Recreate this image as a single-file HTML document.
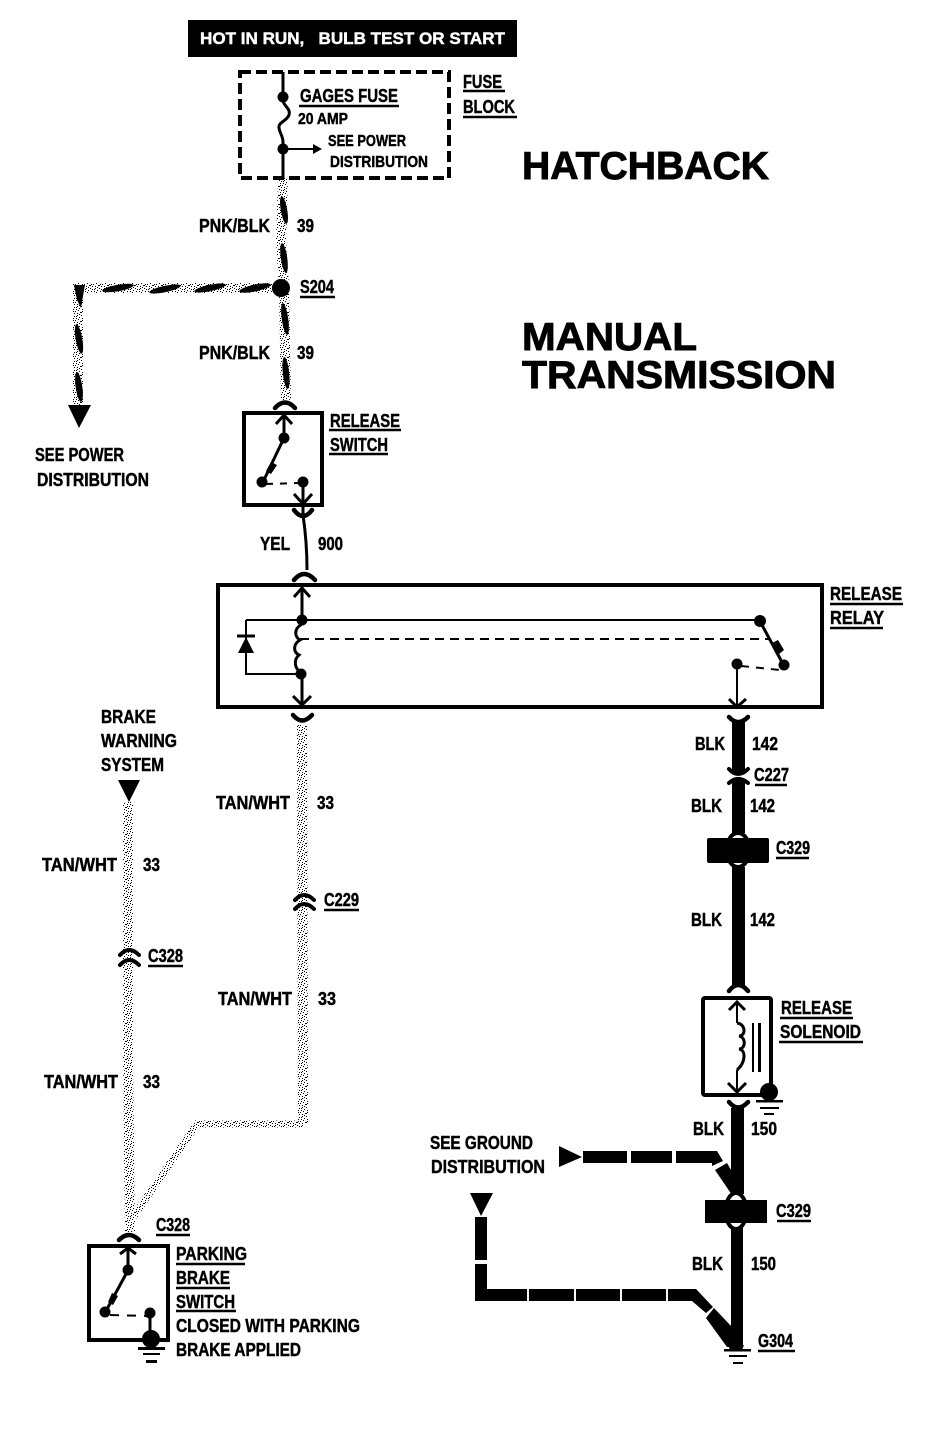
<!DOCTYPE html>
<html><head><meta charset="utf-8"><title>Hatchback Manual Transmission Wiring</title>
<style>
html,body{margin:0;padding:0;background:#fff}
svg{display:block}
text{font-family:"Liberation Sans",sans-serif;font-weight:bold;fill:#000;font-size:18px;stroke:#000;stroke-width:.45}
.h{font-size:39px;stroke-width:.9}
.m{font-size:16px}
.u{stroke:#000;stroke-width:2.5;fill:none}
.w{fill:none;stroke:#000;stroke-width:2}
.t{fill:none;stroke:#000;stroke-width:3}
.a{fill:none;stroke:#000;stroke-width:4.5;stroke-linecap:round}
.s{fill:none;stroke:url(#st);stroke-width:10}
.k{fill:none;stroke:#000;stroke-width:12}
</style></head><body>
<svg width="928" height="1432" viewBox="0 0 928 1432" xmlns="http://www.w3.org/2000/svg">
<defs>
<pattern id="st" width="9" height="9" patternUnits="userSpaceOnUse">
<rect x="0" y="0" width="1" height="1"/><rect x="2" y="1" width="1" height="1"/><rect x="5" y="0" width="1" height="1"/><rect x="7" y="2" width="1" height="1"/>
<rect x="1" y="3" width="1" height="1"/><rect x="4" y="3" width="1" height="1"/><rect x="3" y="5" width="1" height="1"/><rect x="6" y="4" width="1" height="1"/>
<rect x="0" y="6" width="1" height="1"/><rect x="8" y="6" width="1" height="1"/><rect x="2" y="7" width="1" height="1"/><rect x="5" y="7" width="1" height="1"/>
<rect x="4" y="1" width="1" height="1"/><rect x="7" y="8" width="1" height="1"/><rect x="1" y="5" width="1" height="1"/>
</pattern>
</defs>
<rect width="928" height="1432" fill="#fff"/>

<!-- Header -->
<rect x="188" y="20" width="329" height="37" fill="#000"/>
<text x="200" y="44" textLength="305" lengthAdjust="spacingAndGlyphs" style="fill:#fff;stroke:#fff;font-size:17px" xml:space="preserve">HOT IN RUN,   BULB TEST OR START</text>

<!-- Titles -->
<text class="h" x="522" y="179" textLength="247" lengthAdjust="spacingAndGlyphs">HATCHBACK</text>
<text class="h" x="522" y="350" textLength="175" lengthAdjust="spacingAndGlyphs">MANUAL</text>
<text class="h" x="522" y="388" textLength="314" lengthAdjust="spacingAndGlyphs">TRANSMISSION</text>

<!-- Fuse block -->
<rect x="240" y="72" width="209" height="106" fill="none" stroke="#000" stroke-width="4" stroke-dasharray="11 5"/>
<path class="t" d="M283 72V100C283 106 291 108 289 115C287 121 278 122 279 128C280 134 283 136 283 142V178"/>
<circle cx="283" cy="97" r="5.5"/><circle cx="283" cy="149" r="5.5"/>
<path class="w" d="M283 149H315"/><path d="M313 144L322 149L313 154Z"/>
<text x="300" y="102" textLength="98" lengthAdjust="spacingAndGlyphs">GAGES FUSE</text><path class="u" d="M299 106H399"/>
<text class="m" x="298" y="124" textLength="50" lengthAdjust="spacingAndGlyphs">20 AMP</text>
<text class="m" x="328" y="146" textLength="78" lengthAdjust="spacingAndGlyphs">SEE POWER</text>
<text class="m" x="330" y="167" textLength="98" lengthAdjust="spacingAndGlyphs">DISTRIBUTION</text>
<text x="463" y="88" textLength="39" lengthAdjust="spacingAndGlyphs">FUSE</text><path class="u" d="M463 91H505"/>
<text x="463" y="113" textLength="52" lengthAdjust="spacingAndGlyphs">BLOCK</text><path class="u" d="M463 117H517"/>

<!-- Pink/black wire -->
<path class="s" d="M283 178L281 240L284 288L286 400"/>
<path class="s" d="M281 288H78V405"/>
<ellipse cx="284" cy="210" rx="3.2" ry="14" transform="rotate(-10 284 210)"/>
<ellipse cx="284" cy="258" rx="3.2" ry="15" transform="rotate(-8 284 258)"/>
<ellipse cx="285" cy="319" rx="3.2" ry="16" transform="rotate(-8 285 319)"/>
<ellipse cx="286" cy="373" rx="3.2" ry="16" transform="rotate(-6 286 373)"/>
<ellipse cx="255" cy="288" rx="16" ry="3.4" transform="rotate(-12 255 288)"/>
<ellipse cx="210" cy="288" rx="16" ry="3.2" transform="rotate(-12 210 288)"/>
<ellipse cx="165" cy="289" rx="16" ry="3.2" transform="rotate(-12 165 289)"/>
<ellipse cx="118" cy="288" rx="16" ry="3.2" transform="rotate(-10 118 288)"/>
<path d="M74 285H85L84 290L81 308L77 300Z"/>
<ellipse cx="79" cy="339" rx="3.3" ry="15" transform="rotate(-10 79 339)"/>
<ellipse cx="79" cy="387" rx="3.3" ry="15" transform="rotate(-8 79 387)"/>
<circle cx="281" cy="288" r="9"/>
<path d="M68 405H91L79 428Z"/>
<text x="199" y="232" textLength="71" lengthAdjust="spacingAndGlyphs">PNK/BLK</text>
<text x="297" y="232" textLength="17" lengthAdjust="spacingAndGlyphs">39</text>
<text x="300" y="293" textLength="34" lengthAdjust="spacingAndGlyphs">S204</text><path class="u" d="M300 297H335"/>
<text x="199" y="359" textLength="71" lengthAdjust="spacingAndGlyphs">PNK/BLK</text>
<text x="297" y="359" textLength="17" lengthAdjust="spacingAndGlyphs">39</text>
<text x="35" y="461" textLength="89" lengthAdjust="spacingAndGlyphs">SEE POWER</text>
<text x="37" y="486" textLength="112" lengthAdjust="spacingAndGlyphs">DISTRIBUTION</text>

<!-- Release switch -->
<path class="a" d="M275 408Q285 397 295 408"/>
<rect x="244" y="413" width="78" height="92" fill="none" stroke="#000" stroke-width="4"/>
<path class="t" d="M284 415V438"/><path class="t" d="M276 424L284 415L292 424"/>
<circle cx="284" cy="438" r="5.5"/><path class="t" d="M283 440L263 482"/><path d="M271 462l6 3-6 9-5-3Z"/><circle cx="262" cy="482" r="5.5"/>
<path class="w" d="M266 484L299 483" stroke-dasharray="7 7"/><circle cx="303" cy="482" r="5.5"/>
<path class="t" d="M303 484V515"/><path class="t" d="M294 494L303 504L312 494"/>
<path class="a" d="M294 510Q303 522 312 510"/>
<path class="t" d="M303 515C306 535 307 550 307 570"/>
<path class="a" d="M294 580Q304 568 315 580"/>
<text x="260" y="550" textLength="30" lengthAdjust="spacingAndGlyphs">YEL</text>
<text x="318" y="550" textLength="25" lengthAdjust="spacingAndGlyphs">900</text>
<text x="330" y="427" textLength="70" lengthAdjust="spacingAndGlyphs">RELEASE</text><path class="u" d="M329 430H401"/>
<text x="330" y="451" textLength="58" lengthAdjust="spacingAndGlyphs">SWITCH</text><path class="u" d="M329 454H388"/>

<!-- Relay -->
<rect x="218" y="585" width="604" height="122" fill="none" stroke="#000" stroke-width="4"/>
<path class="t" d="M302 587V620"/><path class="t" d="M294 597L302 588L310 597"/>
<circle cx="302" cy="620" r="5.5"/>
<path class="w" d="M246 620H760"/>
<path class="w" d="M246 620V674H301"/>
<path d="M238 653H254L246 637Z"/><path class="t" d="M237 636H255"/>
<path class="t" d="M302 624C292 630 296 638 300 640C293 644 293 652 299 655C293 660 295 670 301 672"/>
<path class="w" d="M300 639H770" stroke-dasharray="9 6"/>
<circle cx="301" cy="674" r="5.5"/>
<path class="t" d="M302 676V705"/><path class="t" d="M293 696L302 705L311 696"/>
<path class="a" d="M293 715Q302 726 312 715"/>
<circle cx="760" cy="621" r="6"/><path class="t" d="M762 625L783 664"/><path d="M772 643l6-3 6 10-5 4Z"/><circle cx="784" cy="665" r="5.5"/>
<path class="w" d="M741 666L780 670" stroke-dasharray="8 7"/>
<circle cx="737" cy="664" r="5.5"/>
<path class="w" d="M737 668V707"/><path class="t" d="M729 699L737 707L746 699"/>
<text x="830" y="600" textLength="72" lengthAdjust="spacingAndGlyphs">RELEASE</text><path class="u" d="M830 604H903"/>
<text x="830" y="624" textLength="54" lengthAdjust="spacingAndGlyphs">RELAY</text><path class="u" d="M830 628H883"/>

<!-- Tan/white wires -->
<path class="s" d="M302 725L303 1123"/>
<path class="s" d="M303 1124H197L131 1220" style="stroke-width:7"/>
<path class="s" d="M128 802V1060L130 1232"/>
<path d="M118 780H140L129 802Z"/>
<path class="a" d="M295 900Q304 890 314 900M295 909Q304 899 314 909" style="stroke-width:4"/>
<path class="a" d="M120 955Q129 945 139 955M120 965Q129 955 139 965" style="stroke-width:4"/>
<text x="101" y="723" textLength="55" lengthAdjust="spacingAndGlyphs">BRAKE</text>
<text x="101" y="747" textLength="76" lengthAdjust="spacingAndGlyphs">WARNING</text>
<text x="101" y="771" textLength="63" lengthAdjust="spacingAndGlyphs">SYSTEM</text>
<text x="216" y="809" textLength="74" lengthAdjust="spacingAndGlyphs">TAN/WHT</text>
<text x="317" y="809" textLength="17" lengthAdjust="spacingAndGlyphs">33</text>
<text x="42" y="871" textLength="75" lengthAdjust="spacingAndGlyphs">TAN/WHT</text>
<text x="143" y="871" textLength="17" lengthAdjust="spacingAndGlyphs">33</text>
<text x="324" y="906" textLength="35" lengthAdjust="spacingAndGlyphs">C229</text><path class="u" d="M324 910H359"/>
<text x="148" y="962" textLength="35" lengthAdjust="spacingAndGlyphs">C328</text><path class="u" d="M148 966H183"/>
<text x="218" y="1005" textLength="74" lengthAdjust="spacingAndGlyphs">TAN/WHT</text>
<text x="318" y="1005" textLength="18" lengthAdjust="spacingAndGlyphs">33</text>
<text x="44" y="1088" textLength="74" lengthAdjust="spacingAndGlyphs">TAN/WHT</text>
<text x="143" y="1088" textLength="17" lengthAdjust="spacingAndGlyphs">33</text>

<!-- Parking brake switch -->
<path class="a" d="M119 1240Q129 1230 139 1240"/>
<rect x="89" y="1246" width="79" height="94" fill="none" stroke="#000" stroke-width="4"/>
<path class="t" d="M128 1248V1270"/><path class="t" d="M120 1254L128 1248L136 1254"/>
<circle cx="128" cy="1270" r="5.5"/><path class="t" d="M126 1274L106 1311"/><path d="M112 1293l6 3-5 9-5-3Z"/><circle cx="105" cy="1312" r="5.5"/>
<path class="w" d="M110 1315L148 1316" stroke-dasharray="9 8"/><circle cx="150" cy="1313" r="5.5"/>
<path class="t" d="M150 1316V1335"/><circle cx="151" cy="1339" r="9"/>
<path d="M138 1347h27v3h-27zM143 1353h17v2h-17zM146 1360h11v3h-11z"/>
<text x="156" y="1231" textLength="34" lengthAdjust="spacingAndGlyphs">C328</text><path class="u" d="M156 1235H190"/>
<text x="176" y="1260" textLength="71" lengthAdjust="spacingAndGlyphs">PARKING</text><path class="u" d="M176 1264H245"/>
<text x="176" y="1284" textLength="54" lengthAdjust="spacingAndGlyphs">BRAKE</text><path class="u" d="M176 1288H230"/>
<text x="176" y="1308" textLength="59" lengthAdjust="spacingAndGlyphs">SWITCH</text><path class="u" d="M176 1311H236"/>
<text x="176" y="1332" textLength="184" lengthAdjust="spacingAndGlyphs">CLOSED WITH PARKING</text>
<text x="176" y="1356" textLength="125" lengthAdjust="spacingAndGlyphs">BRAKE APPLIED</text>

<!-- Right black wire -->
<path class="a" d="M729 717Q738 727 748 717"/>
<path d="M732 722H745V773H732Z"/>
<path class="a" d="M729 769Q738 779 748 769" style="stroke-width:4"/>
<path class="a" d="M729 783Q738 775 748 783" style="stroke-width:4"/>
<path d="M732 781H745V833H732Z"/>
<ellipse cx="738" cy="850" rx="11.5" ry="17" fill="none" stroke="#000" stroke-width="4"/>
<rect x="707" y="838" width="62" height="25" rx="2"/>
<rect x="732" y="867" width="13" height="120"/>
<path class="a" d="M729 991Q738 979 748 991"/>
<text x="695" y="750" textLength="30" lengthAdjust="spacingAndGlyphs">BLK</text>
<text x="752" y="750" textLength="26" lengthAdjust="spacingAndGlyphs">142</text>
<text x="754" y="781" textLength="35" lengthAdjust="spacingAndGlyphs">C227</text><path class="u" d="M755 785H787"/>
<text x="691" y="812" textLength="31" lengthAdjust="spacingAndGlyphs">BLK</text>
<text x="750" y="812" textLength="25" lengthAdjust="spacingAndGlyphs">142</text>
<text x="776" y="854" textLength="34" lengthAdjust="spacingAndGlyphs">C329</text><path class="u" d="M776 858H809"/>
<text x="691" y="926" textLength="31" lengthAdjust="spacingAndGlyphs">BLK</text>
<text x="750" y="926" textLength="25" lengthAdjust="spacingAndGlyphs">142</text>

<!-- Solenoid -->
<rect x="703" y="998" width="68" height="97" rx="2" fill="none" stroke="#000" stroke-width="4"/>
<path class="w" d="M737 1001V1023"/><path class="t" d="M729 1010L737 1002L745 1010"/>
<path class="t" d="M737 1023C746 1024 746 1036 739 1036C746 1037 746 1049 739 1049C746 1050 746 1062 737 1070"/>
<path class="w" d="M737 1070V1092"/><path class="t" d="M728 1083L737 1092L746 1083"/>
<path d="M752 1023h2v49h-2zM758 1023h3v49h-3z"/>
<circle cx="769" cy="1092" r="9"/>
<path d="M756 1100h27v2.5h-27zM760 1107h19v2h-19zM764 1113h10v2h-10z"/>
<text x="781" y="1014" textLength="71" lengthAdjust="spacingAndGlyphs">RELEASE</text><path class="u" d="M780 1018H853"/>
<text x="780" y="1038" textLength="81" lengthAdjust="spacingAndGlyphs">SOLENOID</text><path class="u" d="M779 1042H863"/>

<!-- Lower black wire -->
<path class="a" d="M729 1102Q738 1113 748 1102"/>
<rect x="731" y="1108" width="13" height="86"/>
<ellipse cx="736" cy="1211" rx="10.5" ry="18" fill="none" stroke="#000" stroke-width="4"/>
<rect x="705" y="1200" width="62" height="23"/>
<rect x="731" y="1228" width="12" height="118"/>
<path d="M728 1345h16l-2 5h-12z"/>
<path d="M724 1349h27v2.5h-27zM729 1355h18v2h-18zM733 1362h10v2h-10z"/>
<text x="693" y="1135" textLength="31" lengthAdjust="spacingAndGlyphs">BLK</text>
<text x="751" y="1135" textLength="26" lengthAdjust="spacingAndGlyphs">150</text>
<text x="776" y="1217" textLength="35" lengthAdjust="spacingAndGlyphs">C329</text><path class="u" d="M777 1221H811"/>
<text x="692" y="1270" textLength="31" lengthAdjust="spacingAndGlyphs">BLK</text>
<text x="751" y="1270" textLength="25" lengthAdjust="spacingAndGlyphs">150</text>
<text x="758" y="1347" textLength="35" lengthAdjust="spacingAndGlyphs">G304</text><path class="u" d="M758 1351H795"/>

<!-- Ground distribution dashed wires -->
<path d="M559 1146V1167L582 1157Z"/>
<path class="k" d="M583 1157H627M631 1157H672M676 1157H712"/>
<path d="M712 1151h5l6 10-11 5Z"/>
<path d="M715 1170L727 1163L738 1182V1195H732Z"/>
<path d="M470 1193H493L481 1216Z"/>
<path class="k" d="M481 1217V1260M481 1264V1301"/>
<path class="k" d="M475 1295H527M529 1295H574M576 1295H620M622 1295H666"/>
<path d="M668 1289H696L713 1307L706 1313L692 1301H668Z"/>
<path d="M714 1308L731 1326V1347H727L706 1318Z"/>
<text x="430" y="1149" textLength="103" lengthAdjust="spacingAndGlyphs">SEE GROUND</text>
<text x="431" y="1173" textLength="114" lengthAdjust="spacingAndGlyphs">DISTRIBUTION</text>
</svg>
</body></html>
